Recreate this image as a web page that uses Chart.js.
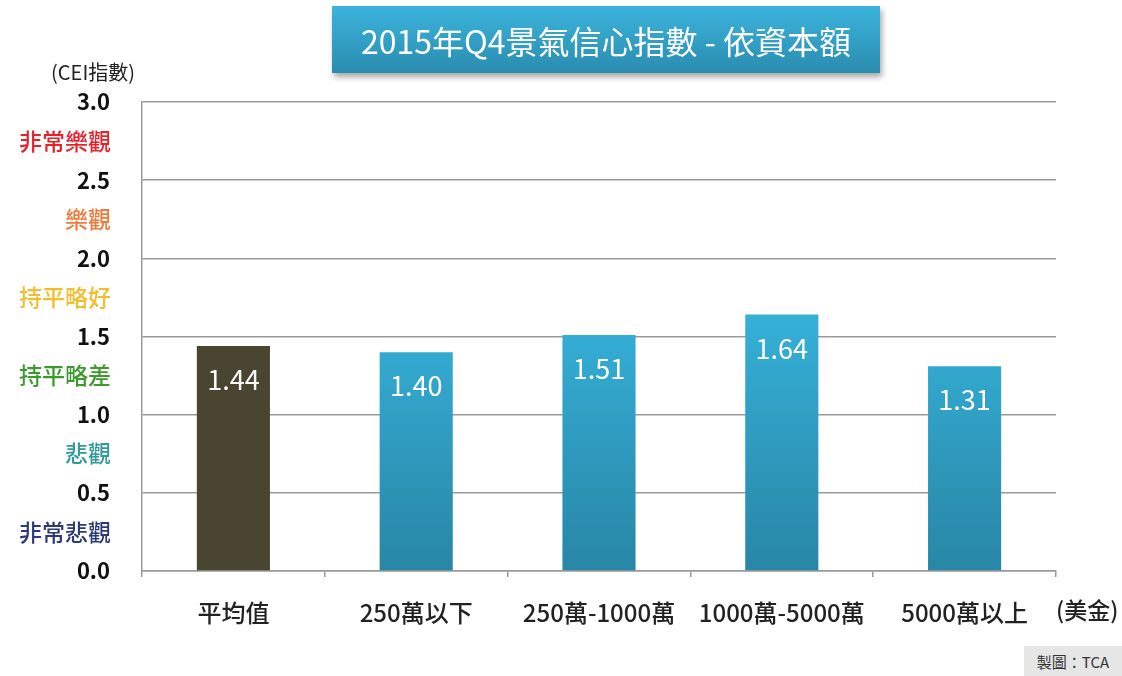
<!DOCTYPE html>
<html lang="zh-Hant">
<head>
<meta charset="UTF-8">
<title>2015年Q4景氣信心指數 - 依資本額</title>
<script src="https://cdn.jsdelivr.net/npm/chart.js"></script>
<style>
  html, body { margin: 0; padding: 0; background: #fff; }
  #wrap { position: relative; width: 1122px; height: 676px; overflow: hidden; }
  #title {
    position: absolute; left: 332px; top: 6px; width: 548px; height: 67px;
    background: linear-gradient(#3cb4dc, #2a8caf);
    box-shadow: 2px 4px 6px rgba(0,0,0,0.35);
    color: #fff; font: 32px "Noto Sans CJK TC", sans-serif;
    display: flex; align-items: center; justify-content: center;
  }
  #credit {
    position: absolute; left: 1024px; top: 646px; width: 98px; height: 30px;
    background: #e6e6e6; color: #333; font: 15px "Noto Sans CJK TC", sans-serif;
    display: flex; align-items: center; justify-content: center;
  }
</style>
</head>
<body>
<div id="wrap">
  <canvas id="chart" width="1122" height="676"></canvas>
  <div id="title">2015年Q4景氣信心指數 - 依資本額</div>
  <div id="credit">製圖：TCA</div>
</div>
<script>
const categories = ['平均值', '250萬以下', '250萬-1000萬', '1000萬-5000萬', '5000萬以上'];
const values = [1.44, 1.40, 1.51, 1.64, 1.31];
const moodLabels = ['非常樂觀', '樂觀', '持平略好', '持平略差', '悲觀', '非常悲觀'];
const moodValues = [2.75, 2.25, 1.75, 1.25, 0.75, 0.25];
const moodColors = ['#e8212b', '#f07a3c', '#f2be2e', '#3c9a2c', '#2f9a9a', '#2c3a78'];

const font = '"Noto Sans CJK TC", "Noto Sans", sans-serif';

function barColor(ctx) {
  const chart = ctx.chart;
  if (ctx.dataIndex === 0) return '#4a4530';
  const area = chart.chartArea;
  if (!area) return '#30a4c8';
  const g = chart.ctx.createLinearGradient(0, area.top + 200, 0, area.bottom);
  g.addColorStop(0, '#36b2da');
  g.addColorStop(1, '#2886a6');
  return g;
}

const extras = {
  id: 'extras',
  afterDatasetsDraw(chart) {
    const c = chart.ctx;
    const y = chart.scales.y;
    const meta = chart.getDatasetMeta(0);
    c.save();
    // value labels inside bars
    c.fillStyle = '#fff';
    c.font = '27px ' + font;
    c.textAlign = 'center';
    c.textBaseline = 'middle';
    meta.data.forEach((bar, i) => {
      c.fillText(values[i].toFixed(2), bar.x, bar.y + 34);
    });
    // mood labels between ticks
    c.font = '500 23px ' + font;
    c.textAlign = 'right';
    moodLabels.forEach((t, i) => {
      c.fillStyle = moodColors[i];
      c.fillText(t, 111, y.getPixelForValue(moodValues[i]));
    });
    // axis unit labels
    c.fillStyle = '#222';
    c.font = '20px ' + font;
    c.fillText('(CEI指數)', 135, 72);
    c.font = '500 23px ' + font;
    c.textAlign = 'left';
    c.fillText('(美金)', 1056, 610);
    c.restore();
  }
};

new Chart(document.getElementById('chart'), {
  type: 'bar',
  data: {
    labels: categories,
    datasets: [{
      data: values,
      backgroundColor: barColor,
      barPercentage: 0.4,
      categoryPercentage: 1
    }]
  },
  options: {
    responsive: false,
    animation: false,
    layout: { padding: { top: 102, right: 66, left: 0, bottom: 0 } },
    plugins: { legend: { display: false }, tooltip: { enabled: false } },
    scales: {
      y: {
        min: 0, max: 3,
        afterFit: s => { s.width = 142; },
        ticks: {
          stepSize: 0.5,
          callback: v => v.toFixed(1),
          color: '#111',
          font: { family: font, size: 22, weight: '600' },
          padding: 32
        },
        grid: { color: '#9a9a9a', lineWidth: 1.5, tickLength: 0 },
        border: { color: '#9a9a9a', width: 1.5 }
      },
      x: {
        afterFit: s => { s.height = 105; },
        ticks: {
          color: '#222',
          font: { family: font, size: 24, weight: '500' },
          padding: 21
        },
        grid: { offset: true, drawOnChartArea: false, color: '#9a9a9a', tickLength: 6, lineWidth: 1.5 },
        border: { color: '#9a9a9a', width: 1.5 }
      }
    }
  },
  plugins: [extras]
});
</script>
</body>
</html>
